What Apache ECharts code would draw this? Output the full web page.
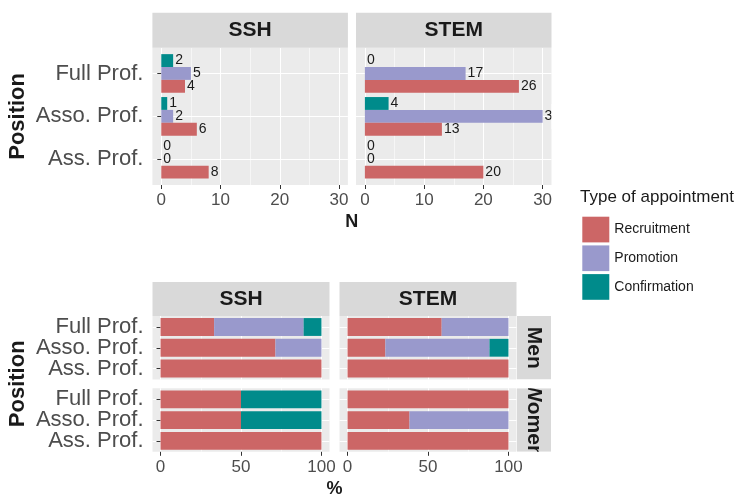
<!DOCTYPE html>
<html><head><meta charset="utf-8">
<script src="https://cdn.jsdelivr.net/npm/echarts@6/dist/echarts.min.js"></script>
<style>html,body{margin:0;padding:0;background:#fff}#c{width:739px;height:497px}</style>
</head><body><div id="c"></div>
<script>
// ---------- data ----------
const categories = ['Ass. Prof.', 'Asso. Prof.', 'Full Prof.']; // bottom -> top
const types = ['Recruitment', 'Promotion', 'Confirmation'];
const fields = ['SSH', 'STEM'];
const genders = ['Men', 'Women'];
const tickN = [0, 10, 20, 30];
const tickPct = [0, 50, 100];

// counts (top chart), in category order
const nSSH_Recruitment = [8, 6, 4];
const nSSH_Promotion = [0, 2, 5];
const nSSH_Confirmation = [0, 1, 2];
const nSTEM_Recruitment = [20, 13, 26];
const nSTEM_Promotion = [0, 30, 17];
const nSTEM_Confirmation = [0, 4, 0];

// percentages (bottom chart), in category order
const pSSH_Men_Recruitment = [100, 71.4, 33.3];
const pSSH_Men_Promotion = [0, 28.6, 55.6];
const pSSH_Men_Confirmation = [0, 0, 11.1];
const pSSH_Women_Recruitment = [100, 50, 50];
const pSSH_Women_Promotion = [0, 0, 0];
const pSSH_Women_Confirmation = [0, 50, 50];
const pSTEM_Men_Recruitment = [100, 23.5, 58.5];
const pSTEM_Men_Promotion = [0, 64.7, 41.5];
const pSTEM_Men_Confirmation = [0, 11.8, 0];
const pSTEM_Women_Recruitment = [100, 38.5, 100];
const pSTEM_Women_Promotion = [0, 61.5, 0];
const pSTEM_Women_Confirmation = [0, 0, 0];

const countData = {
  SSH: {Recruitment: nSSH_Recruitment, Promotion: nSSH_Promotion, Confirmation: nSSH_Confirmation},
  STEM: {Recruitment: nSTEM_Recruitment, Promotion: nSTEM_Promotion, Confirmation: nSTEM_Confirmation}
};
const pctData = {
  SSH: {
    Men: {Recruitment: pSSH_Men_Recruitment, Promotion: pSSH_Men_Promotion, Confirmation: pSSH_Men_Confirmation},
    Women: {Recruitment: pSSH_Women_Recruitment, Promotion: pSSH_Women_Promotion, Confirmation: pSSH_Women_Confirmation}
  },
  STEM: {
    Men: {Recruitment: pSTEM_Men_Recruitment, Promotion: pSTEM_Men_Promotion, Confirmation: pSTEM_Men_Confirmation},
    Women: {Recruitment: pSTEM_Women_Recruitment, Promotion: pSTEM_Women_Promotion, Confirmation: pSTEM_Women_Confirmation}
  }
};

// ---------- style / layout ----------
const FONT = '"Liberation Sans", Arial, Helvetica, sans-serif';
const COLORS = {Recruitment: '#CC6666', Promotion: '#9999CC', Confirmation: '#008B8B'};
const STRIP = '#D9D9D9', PANEL = '#EBEBEB';

const grids = [], xAxes = [], yAxes = [], series = [], graphics = [];

function addPanel(p) {
  const unit = p.height / (2 + 2 * p.yExpand);
  const inset = (p.yExpand - 0.5) * unit;
  const gi = grids.length;
  const catPos = categories.map((c, i) => i + 1);
  grids.push({left: p.left, top: p.top, width: p.width, height: p.height, show: true,
    backgroundColor: PANEL, borderWidth: 0});
  grids.push({left: p.left, top: p.top + inset, width: p.width, height: p.height - 2 * inset, show: false});
  xAxes.push({type: 'value', gridIndex: gi, min: p.xMin, max: p.xMax, minInterval: p.xStep, maxInterval: p.xStep,
    axisLine: {show: false},
    axisTick: {show: p.showX, length: 4, lineStyle: {color: '#333333', width: 1}, customValues: p.xTicks},
    axisLabel: {show: p.showX, customValues: p.xTicks, fontFamily: FONT, fontSize: 17, color: '#4D4D4D', margin: 7},
    splitLine: {show: true, lineStyle: {color: '#FFFFFF', width: 1.1}},
    minorTick: {show: false, splitNumber: 2},
    minorSplitLine: {show: true, lineStyle: {color: '#FFFFFF', width: 0.55}}
  });
  yAxes.push({type: 'value', gridIndex: gi, min: 1 - p.yExpand, max: categories.length + p.yExpand,
    minInterval: 1, maxInterval: 1,
    axisLine: {show: false}, axisTick: {show: false, customValues: catPos}, axisLabel: {show: false},
    splitLine: {show: true, lineStyle: {color: '#FFFFFF', width: 1.1}}
  });
  xAxes.push({type: 'value', gridIndex: gi + 1, min: p.xMin, max: p.xMax, show: false});
  yAxes.push({type: 'category', gridIndex: gi + 1, data: categories,
    axisLine: {show: false},
    axisTick: {show: p.showY, alignWithLabel: true, interval: 0, length: 4, lineStyle: {color: '#333333', width: 1}},
    axisLabel: {show: p.showY, interval: 0, hideOverlap: false, fontFamily: FONT, fontSize: 22, color: '#4D4D4D', margin: 9},
    splitLine: {show: false}
  });
  return gi + 1;
}

function strip(x, y, w, h, text, vertical) {
  graphics.push({type: 'rect', shape: {x: x, y: y, width: w, height: h}, style: {fill: STRIP}, z: 1});
  graphics.push({type: 'text', x: x + w / 2, y: y + h / 2, rotation: vertical ? -Math.PI / 2 : 0, z: 2,
    style: {text: text, font: 'bold 21px ' + FONT, fill: '#1A1A1A', align: 'center', verticalAlign: 'middle'}});
}
function label(x, y, text, size, rot, bold) {
  graphics.push({type: 'text', x: x, y: y, rotation: rot || 0, z: 5,
    style: {text: text, font: (bold ? 'bold ' : '') + size + 'px ' + FONT, fill: '#1A1A1A',
      align: 'center', verticalAlign: 'middle'}});
}

// ---------- top chart ----------
const topLeft = {SSH: 152.4, STEM: 356.0};
fields.forEach((f, fi) => {
  const L = topLeft[f];
  const idx = addPanel({left: L, top: 47.7, width: 195.5, height: 137.3, xMin: -1.5, xMax: 31.5, xStep: 10,
    xTicks: tickN, yExpand: 0.6, showX: true, showY: fi === 0});
  strip(L, 12.7, 195.5, 35, f, false);
  ['Confirmation', 'Promotion', 'Recruitment'].forEach(t => {
    series.push({type: 'bar', name: t, xAxisIndex: idx, yAxisIndex: idx, data: countData[f][t],
      barGap: '0%', barCategoryGap: '10%', itemStyle: {color: COLORS[t]}, silent: true,
      label: {show: true, position: 'right', distance: 2, fontFamily: FONT, fontSize: 14, color: '#1A1A1A'}});
  });
});
label(18.3, 116.4, 'Position', 22, Math.PI / 2, true);
label(351.8, 221.7, 'N', 18, 0, true);

// ---------- bottom chart ----------
const botLeft = {SSH: 152.5, STEM: 339.5};
const botTop = {Men: 316, Women: 388.3};
fields.forEach((f, fi) => {
  strip(botLeft[f], 282, 177, 34, f, false);
  genders.forEach((g, gi) => {
    const idx = addPanel({left: botLeft[f], top: botTop[g], width: 177, height: 63.5, xMin: -5, xMax: 105, xStep: 50,
      xTicks: tickPct, yExpand: 0.53, showX: gi === 1, showY: fi === 0});
    types.forEach(t => {
      series.push({type: 'bar', name: t, xAxisIndex: idx, yAxisIndex: idx, data: pctData[f][g][t],
        stack: f + g, barCategoryGap: '14%', itemStyle: {color: COLORS[t]}, silent: true});
    });
  });
});
genders.forEach(g => strip(517, botTop[g], 34, 63.5, g, true));
label(18.3, 383.8, 'Position', 22, Math.PI / 2, true);
label(334.6, 489, '%', 18, 0, true);

// clipping overlays (labels / strip text cut at panel edges as in the original)
graphics.push({type: 'rect', shape: {x: 551.5, y: 104, width: 24, height: 25}, style: {fill: '#FFFFFF'}, z: 50});
graphics.push({type: 'rect', shape: {x: 516, y: 379.5, width: 36, height: 8.8}, style: {fill: '#FFFFFF'}, z: 50});
graphics.push({type: 'rect', shape: {x: 516, y: 451.8, width: 36, height: 9}, style: {fill: '#FFFFFF'}, z: 50});

// legend title
graphics.push({type: 'text', x: 580, y: 197.5, z: 5,
  style: {text: 'Type of appointment', font: '17px ' + FONT, fill: '#1A1A1A', align: 'left', verticalAlign: 'middle'}});

const chart = echarts.init(document.getElementById('c'), null, {renderer: 'canvas'});
chart.setOption({
  animation: false,
  backgroundColor: '#FFFFFF',
  grid: grids, xAxis: xAxes, yAxis: yAxes, series: series,
  legend: {data: types, orient: 'vertical', left: 577.3, top: 211.7, itemWidth: 27, itemHeight: 25.7, itemGap: 3,
    icon: 'rect', selectedMode: false, textStyle: {fontFamily: FONT, fontSize: 14, color: '#1A1A1A'}},
  graphic: graphics
});
</script></body></html>
